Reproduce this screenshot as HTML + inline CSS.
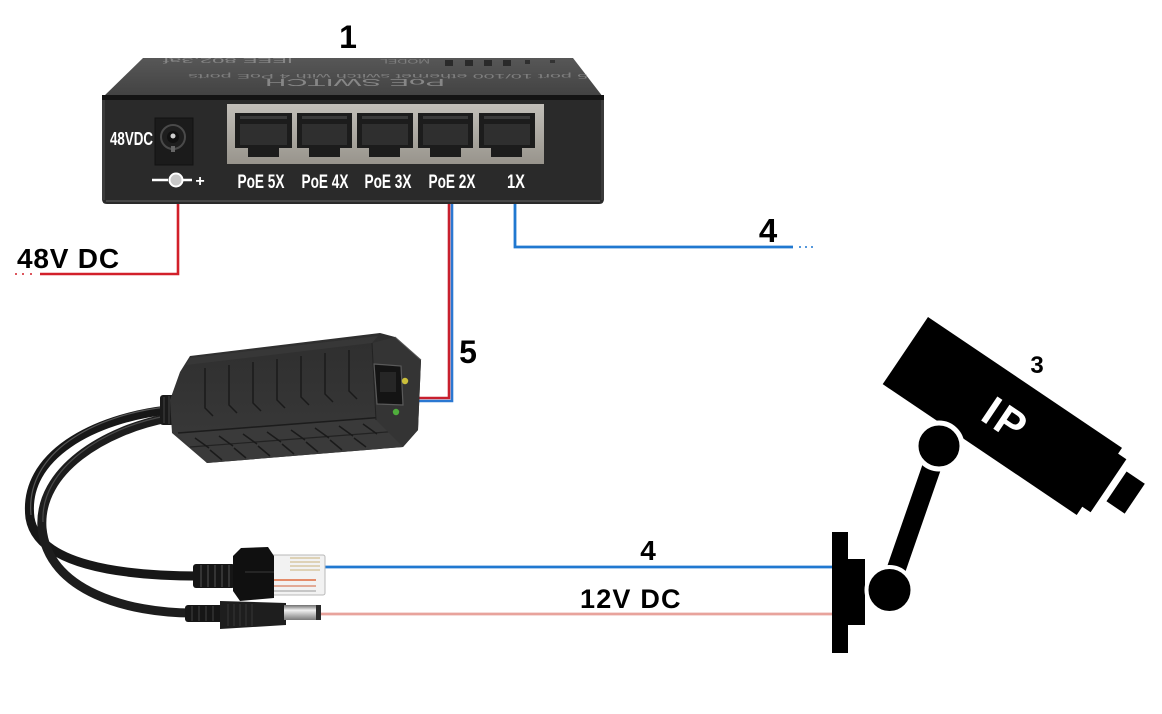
<!DOCTYPE html>
<html>
<head>
<meta charset="utf-8">
<style>
html,body{margin:0;padding:0;background:#fff;}
svg{display:block;}
text{font-family:"Liberation Sans",Arial,sans-serif;}
</style>
</head>
<body>
<svg width="1162" height="714" viewBox="0 0 1162 714" xmlns="http://www.w3.org/2000/svg">
<defs>
  <linearGradient id="topf" x1="0" y1="0" x2="0" y2="1">
    <stop offset="0" stop-color="#575757"/>
    <stop offset="1" stop-color="#424242"/>
  </linearGradient>
  <linearGradient id="metal" x1="0" y1="0" x2="0" y2="1">
    <stop offset="0" stop-color="#c2bfb9"/>
    <stop offset="1" stop-color="#98948c"/>
  </linearGradient>
  <linearGradient id="tip" x1="0" y1="0" x2="0" y2="1">
    <stop offset="0" stop-color="#6e6e6e"/>
    <stop offset="0.35" stop-color="#f0f0f0"/>
    <stop offset="1" stop-color="#7a7a7a"/>
  </linearGradient>
  <linearGradient id="spl" x1="0" y1="0" x2="0" y2="1">
    <stop offset="0" stop-color="#2e2e2e"/>
    <stop offset="1" stop-color="#3a3a3a"/>
  </linearGradient>
</defs>
<rect width="1162" height="714" fill="#fff"/>

<!-- ========== SWITCH ========== -->
<text x="348" y="48" font-size="32" font-weight="bold" text-anchor="middle" fill="#000">1</text>

<polygon points="143,58 573,58 603,97 103,97" fill="url(#topf)"/>
<g opacity="0.6">
<text transform="rotate(180 228 61)" x="228" y="64" font-size="7" fill="#a8a8a8" text-anchor="middle" textLength="130" lengthAdjust="spacingAndGlyphs">IEEE 802.3af</text>
<text transform="rotate(180 405 62)" x="405" y="65" font-size="6" fill="#9a9a9a" text-anchor="middle" textLength="50" lengthAdjust="spacingAndGlyphs">MODEL</text>
<text transform="rotate(180 388 76)" x="388" y="78" font-size="6" fill="#a0a0a0" text-anchor="middle" textLength="400" lengthAdjust="spacingAndGlyphs">5 port 10/100 ethernet switch with 4 PoE ports</text>
<text transform="rotate(180 355 83)" x="355" y="87" font-size="10" fill="#b0b0b0" text-anchor="middle" textLength="180" lengthAdjust="spacingAndGlyphs">PoE SWITCH</text>
</g>
<rect x="445" y="60" width="8" height="6" fill="#2a2a2a"/>
<rect x="465" y="60" width="8" height="6" fill="#2a2a2a"/>
<rect x="484" y="60" width="8" height="6" fill="#2a2a2a"/>
<rect x="503" y="60" width="8" height="6" fill="#2a2a2a"/>
<rect x="525" y="60" width="5" height="4" fill="#2f2f2f"/>
<rect x="550" y="60" width="5" height="3" fill="#333"/>

<rect x="102" y="95" width="502" height="6" fill="#141414"/>
<path d="M102,100 H604 V199 Q604,204 599,204 H107 Q102,204 102,199 Z" fill="#2a2a2a"/>
<rect x="102" y="100" width="3" height="100" fill="#3b3b3b"/>
<rect x="601" y="100" width="3" height="100" fill="#3b3b3b"/>
<rect x="106" y="200" width="494" height="2" fill="#474747"/>

<!-- power jack -->
<text x="110" y="145" font-size="18" font-weight="bold" fill="#fff" textLength="43" lengthAdjust="spacingAndGlyphs">48VDC</text>
<rect x="155" y="118" width="38" height="47" fill="#1b1b1b" stroke="#111" stroke-width="1"/>
<circle cx="173" cy="137" r="12" fill="#1e1e1e" stroke="#4a4a4a" stroke-width="2"/>
<circle cx="173" cy="137" r="6" fill="#111"/>
<circle cx="173" cy="136" r="2.5" fill="#cfcfcf"/>
<rect x="171" y="146" width="4" height="6" fill="#666"/>
<line x1="152" y1="180" x2="168" y2="180" stroke="#fff" stroke-width="2.5"/>
<circle cx="176" cy="180" r="6.5" fill="#c8c8c8" stroke="#fff" stroke-width="2"/>
<line x1="183" y1="180" x2="192" y2="180" stroke="#fff" stroke-width="2.5"/>
<text x="200" y="186" font-size="16" font-weight="bold" fill="#fff" text-anchor="middle">+</text>

<!-- ports -->
<rect x="227" y="104" width="317" height="60" fill="url(#metal)"/>
<g fill="#1c1c1c">
  <rect x="235" y="113" width="57" height="35"/><rect x="248" y="147" width="31" height="10"/>
  <rect x="297" y="113" width="55" height="35"/><rect x="309" y="147" width="31" height="10"/>
  <rect x="357" y="113" width="56" height="35"/><rect x="369" y="147" width="31" height="10"/>
  <rect x="418" y="113" width="55" height="35"/><rect x="430" y="147" width="31" height="10"/>
  <rect x="479" y="113" width="56" height="35"/><rect x="491" y="147" width="31" height="10"/>
</g>
<g fill="#2f2f2f">
  <rect x="240" y="124" width="47" height="21"/>
  <rect x="302" y="124" width="45" height="21"/>
  <rect x="362" y="124" width="46" height="21"/>
  <rect x="423" y="124" width="45" height="21"/>
  <rect x="484" y="124" width="46" height="21"/>
</g>
<g fill="#3a3a3a">
  <rect x="240" y="116" width="47" height="3"/>
  <rect x="302" y="116" width="45" height="3"/>
  <rect x="362" y="116" width="46" height="3"/>
  <rect x="423" y="116" width="45" height="3"/>
  <rect x="484" y="116" width="46" height="3"/>
</g>
<g font-size="19" font-weight="bold" fill="#fff" text-anchor="middle">
  <text x="261" y="188" textLength="47" lengthAdjust="spacingAndGlyphs">PoE 5X</text>
  <text x="325" y="188" textLength="47" lengthAdjust="spacingAndGlyphs">PoE 4X</text>
  <text x="388" y="188" textLength="47" lengthAdjust="spacingAndGlyphs">PoE 3X</text>
  <text x="452" y="188" textLength="47" lengthAdjust="spacingAndGlyphs">PoE 2X</text>
  <text x="516" y="188" textLength="18" lengthAdjust="spacingAndGlyphs">1X</text>
</g>

<!-- ========== CONNECTOR LINES ========== -->
<polyline points="178,204 178,274 40,274" fill="none" stroke="#d2202a" stroke-width="2.6"/>
<circle cx="16" cy="274" r="1" fill="#d2202a"/>
<circle cx="23" cy="274" r="1" fill="#d2202a"/>
<circle cx="31" cy="274" r="1" fill="#d2202a"/>
<text x="17" y="268" font-size="28" font-weight="bold" fill="#000" letter-spacing="0.8">48V DC</text>

<polyline points="452,204 452,401 414,401" fill="none" stroke="#2a78d2" stroke-width="2.6"/>
<polyline points="449,204 449,398 414,398" fill="none" stroke="#c8202e" stroke-width="2.6"/>
<text x="468" y="363" font-size="32" font-weight="bold" text-anchor="middle" fill="#000">5</text>

<polyline points="515,204 515,247 793,247" fill="none" stroke="#2078d0" stroke-width="2.8"/>
<circle cx="800" cy="247" r="1" fill="#2078d0"/>
<circle cx="806" cy="247" r="1" fill="#2078d0"/>
<circle cx="812" cy="247" r="1" fill="#2078d0"/>
<text x="768" y="242" font-size="33" font-weight="bold" text-anchor="middle" fill="#000">4</text>

<line x1="325" y1="567" x2="834" y2="567" stroke="#2078d0" stroke-width="2.8"/>
<line x1="320" y1="614" x2="834" y2="614" stroke="#e8a39c" stroke-width="2.8"/>
<text x="648" y="560" font-size="28" font-weight="bold" text-anchor="middle" fill="#000">4</text>
<text x="580" y="608" font-size="27" font-weight="bold" fill="#000" letter-spacing="1.2">12V DC</text>

<!-- ========== SPLITTER ========== -->
<path d="M168,410 C95,418 22,455 30,518 C38,565 120,576 200,576" fill="none" stroke="#171717" stroke-width="9"/>
<path d="M168,418 C105,430 38,470 42,528 C48,592 130,613 192,613" fill="none" stroke="#1d1d1d" stroke-width="9"/>
<path d="M166,407 C95,415 25,452 31,515" fill="none" stroke="#555" stroke-width="1.2"/>
<path d="M166,416 C105,427 40,468 43,522" fill="none" stroke="#4a4a4a" stroke-width="1.2"/>
<rect x="160" y="395" width="18" height="30" rx="3" fill="#1a1a1a"/>
<g stroke="#3d3d3d" stroke-width="1.2">
  <line x1="164" y1="397" x2="164" y2="423"/><line x1="169" y1="396" x2="169" y2="424"/><line x1="174" y1="396" x2="174" y2="424"/>
</g>
<polygon points="190,356 380,333 395,337 421,360 418,430 403,447 207,463 172,433 170,400 180,372" fill="url(#spl)"/>
<polygon points="190,358 378,336 372,343 186,365" fill="#3a3a3a" opacity="0.7"/>
<polygon points="176,433 398,416 403,447 207,463" fill="#3a3a3a"/>
<line x1="178" y1="433" x2="398" y2="416" stroke="#1c1c1c" stroke-width="1.5"/>
<line x1="190" y1="447" x2="400" y2="431" stroke="#222" stroke-width="1.2"/>
<polygon points="372,343 395,337 421,360 418,430 403,447 376,420" fill="#343434"/>
<line x1="395" y1="337" x2="421" y2="360" stroke="#555" stroke-width="1"/>
<line x1="372" y1="343" x2="376" y2="420" stroke="#222" stroke-width="1"/>
<g stroke="#1a1a1a" stroke-width="1.5" fill="none">
  <path d="M205,368 L205,408 l8,8"/><path d="M229,365 L229,405 l8,8"/><path d="M253,362 L253,403 l8,8"/>
  <path d="M277,359 L277,400 l8,8"/><path d="M301,356 L301,397 l8,8"/><path d="M325,353 L325,394 l8,8"/>
  <path d="M349,350 L349,391 l8,8"/>
  <path d="M195,438 l14,10"/><path d="M219,436 l14,10"/><path d="M243,434 l14,10"/><path d="M267,432 l14,10"/>
  <path d="M291,430 l14,10"/><path d="M315,428 l14,10"/><path d="M339,426 l14,10"/><path d="M363,424 l14,10"/>
  <path d="M210,450 l12,10"/><path d="M234,448 l12,10"/><path d="M258,446 l12,10"/><path d="M282,444 l12,10"/>
  <path d="M306,442 l12,10"/><path d="M330,440 l12,10"/><path d="M354,438 l12,9"/>
</g>
<polygon points="374,364 401,366 403,405 377,404" fill="#141414" stroke="#5a5a5a" stroke-width="1.2"/>
<rect x="380" y="372" width="16" height="20" fill="#262626"/>
<circle cx="405" cy="381" r="3.2" fill="#cbbf3a"/>
<circle cx="396" cy="412" r="3.2" fill="#4fae3c"/>

<!-- RJ45 plug -->
<rect x="193" y="564" width="42" height="24" rx="3" fill="#161616"/>
<g stroke="#3e3e3e" stroke-width="1.5">
  <line x1="201" y1="565" x2="201" y2="587"/><line x1="208" y1="565" x2="208" y2="587"/>
  <line x1="215" y1="565" x2="215" y2="587"/><line x1="222" y1="565" x2="222" y2="587"/><line x1="229" y1="565" x2="229" y2="587"/>
</g>
<rect x="268" y="555" width="57" height="40" rx="2" fill="#f2f2f2" stroke="#b8b8b8" stroke-width="1"/>
<g stroke="#c9b27a" stroke-width="1">
  <line x1="290" y1="558" x2="320" y2="558"/><line x1="290" y1="562" x2="320" y2="562"/>
  <line x1="290" y1="566" x2="320" y2="566"/><line x1="290" y1="570" x2="320" y2="570"/>
</g>
<line x1="272" y1="580" x2="316" y2="580" stroke="#e06a3c" stroke-width="1.5"/>
<line x1="272" y1="586" x2="316" y2="586" stroke="#d98060" stroke-width="1.2"/>
<line x1="272" y1="591" x2="316" y2="591" stroke="#999" stroke-width="1"/>
<polygon points="233,556 241,548 268,547 274,556 274,598 240,601 233,591" fill="#101010"/>
<line x1="245" y1="572" x2="274" y2="572" stroke="#2c2c2c" stroke-width="1.5"/>

<!-- DC plug -->
<rect x="185" y="605" width="38" height="17" rx="3" fill="#161616"/>
<g stroke="#3a3a3a" stroke-width="1.2">
  <line x1="192" y1="606" x2="192" y2="621"/><line x1="199" y1="606" x2="199" y2="621"/>
  <line x1="206" y1="606" x2="206" y2="621"/><line x1="213" y1="606" x2="213" y2="621"/>
</g>
<polygon points="220,601 286,603 286,625 220,629" fill="#1e1e1e"/>
<g stroke="#353535" stroke-width="1">
  <line x1="228" y1="604" x2="228" y2="626"/><line x1="234" y1="604" x2="234" y2="626"/>
  <line x1="240" y1="604" x2="240" y2="626"/><line x1="246" y1="604" x2="246" y2="626"/>
  <line x1="252" y1="604" x2="252" y2="626"/>
</g>
<rect x="284" y="605" width="34" height="15" fill="url(#tip)"/>
<rect x="316" y="605" width="5" height="15" fill="#2a2a2a"/>

<!-- ========== IP CAMERA ========== -->
<rect x="832" y="532" width="16" height="121" fill="#000"/>
<rect x="847" y="559" width="18" height="66" fill="#000"/>
<line x1="939" y1="446" x2="889" y2="590" stroke="#000" stroke-width="19"/>
<g transform="translate(928,317) rotate(34)">
  <rect x="0" y="0" width="234" height="81" fill="#000"/>
  <rect x="232" y="7" width="12" height="64" fill="#000"/>
  <rect x="251" y="17" width="22" height="36" fill="#000"/>
  <text x="122" y="56" font-size="42" font-weight="bold" fill="#fff" text-anchor="middle" letter-spacing="3">IP</text>
</g>
<circle cx="939" cy="446" r="23" fill="#000" stroke="#fff" stroke-width="5"/>
<circle cx="889.5" cy="590" r="23" fill="#000" stroke="#fff" stroke-width="4"/>
<text x="1037" y="373" font-size="24" font-weight="bold" text-anchor="middle" fill="#000">3</text>
</svg>
</body>
</html>
